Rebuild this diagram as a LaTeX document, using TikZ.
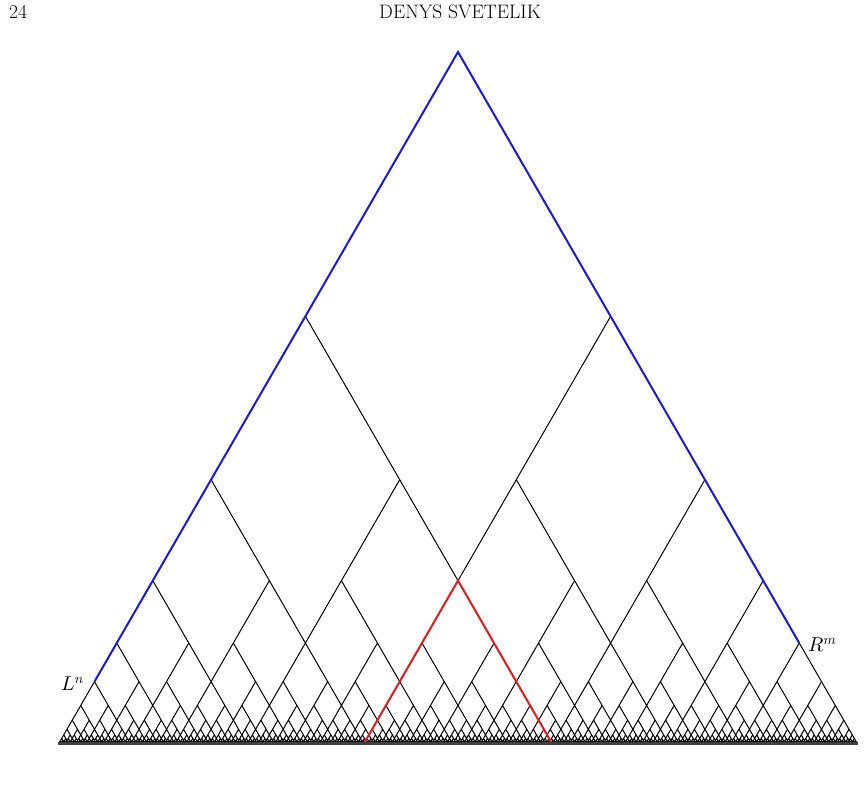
\documentclass[tikz,border=0pt]{standalone}
\usepackage{fix-cm}
\usepackage{tikz}
\usetikzlibrary{calc}
\definecolor{sideblue}{RGB}{25,25,215}
\definecolor{vred}{RGB}{225,30,30}
\DeclareFontShape{OML}{cmm}{m}{it}{<->cmmi10}{}
\tikzset{
  thinline/.style={line width=1pt, black},
  blueline/.style={line width=2pt, sideblue, line join=miter},
  redline/.style={line width=2pt, vred, line join=miter},
  baseline/.style={line width=3pt, black!75},
  lab/.style={inner sep=0pt, font=\fontsize{20}{22}\selectfont},
  head/.style={inner sep=0pt, font=\fontsize{19.5}{22}\selectfont}
}
\makeatletter
\def\hmin{3}
\def\baseY{46}
\def\tri#1#2#3{%
  \ifdim #2pt>\hmin pt\relax
    \pgfmathtruncatemacro\trikey{round(#1*10)}%
    \ifcsname seen@#3@\trikey\endcsname\else
      \expandafter\def\csname seen@#3@\trikey\endcsname{}%
      \pgfmathsetmacro\trihp{#2*0.6180340}%
      \pgfmathsetmacro\tridd{(#2-\trihp)*0.5773503}%
      \pgfmathsetmacro\triee{\trihp*0.5773503}%
      \pgfmathsetmacro\trixl{#1-\tridd}%
      \pgfmathsetmacro\trixr{#1+\tridd}%
      \pgfmathsetmacro\triyp{\baseY+\trihp}%
      \pgfmathsetmacro\trixlb{\trixl+\triee}%
      \pgfmathsetmacro\trixrb{\trixr-\triee}%
      \pgfpathmoveto{\pgfpoint{\trixl pt}{\triyp pt}}%
      \pgfpathlineto{\pgfpoint{\trixlb pt}{\baseY pt}}%
      \pgfpathmoveto{\pgfpoint{\trixr pt}{\triyp pt}}%
      \pgfpathlineto{\pgfpoint{\trixrb pt}{\baseY pt}}%
      \pgfmathtruncatemacro\trilv{#3+1}%
      \edef\trinext{\noexpand\tri{\trixl}{\trihp}{\trilv}\noexpand\tri{\trixr}{\trihp}{\trilv}}%
      \trinext
    \fi
  \fi}
\makeatother
\begin{document}
\begin{tikzpicture}[x=1pt,y=1pt]
\useasboundingbox (0,0) rectangle (865,790);
% fractal interior
\begin{pgfscope}
\pgfsetlinewidth{1pt}
\pgfsetcolor{black}
\tri{458}{692}{0}
\pgfusepath{stroke}
\end{pgfscope}
% main triangle
\coordinate (A) at (458,738);
\coordinate (BL) at (58.47,46);
\coordinate (BR) at (857.53,46);
\coordinate (L) at ($(A)!0.909830!(BL)$);
\coordinate (R) at ($(A)!0.854102!(BR)$);
\coordinate (C) at (458,209.36);
\coordinate (QL) at (363.68,46);
\coordinate (QR) at (552.32,46);
\draw[thinline] (L) -- (BL);
\draw[thinline] (R) -- (BR);
\draw[blueline] (L) -- (A) -- (R);
\draw[redline] (QL) -- (C) -- (QR);
\draw[baseline] (BL) -- (BR);
% labels
\node[lab, anchor=base west] (Ln) at (61,99.3) {$L^n$};
\node[lab, anchor=base west] (Rm) at (808,138.3) {$R^m$};
% running head
\node[head, anchor=base west] (pg) at (9,771) {24};
\node[head, anchor=base] (au) at (460,771) {DENYS SVETELIK};
\end{tikzpicture}
\end{document}
